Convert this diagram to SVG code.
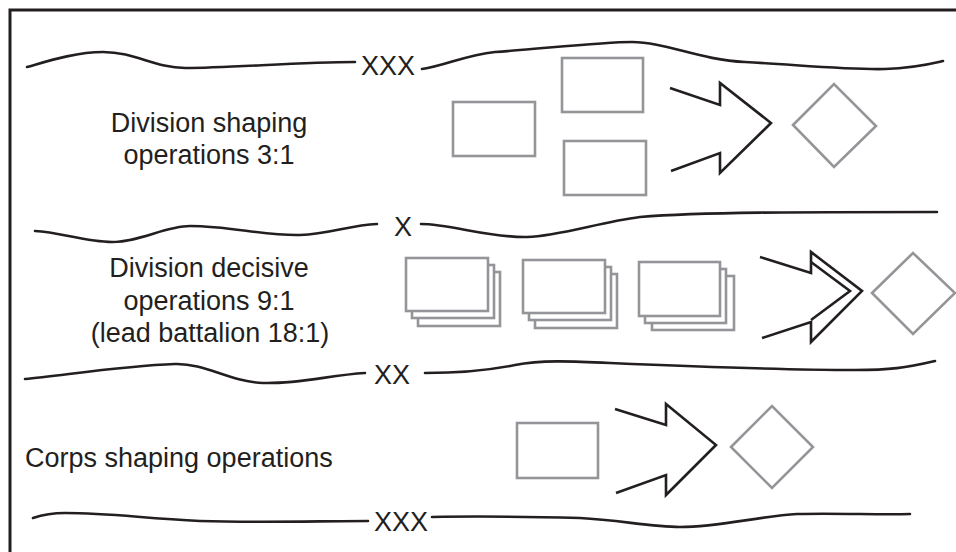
<svg xmlns="http://www.w3.org/2000/svg" width="956" height="552" viewBox="0 0 956 552">
<style>
.frame{fill:none;stroke:#231f20;stroke-width:3}
.wave{fill:none;stroke:#231f20;stroke-width:2.6;stroke-linecap:round}
.unit{fill:#fff;stroke:#939598;stroke-width:2.6}
.obj{fill:none;stroke:#939598;stroke-width:2.6}
.arrow{fill:none;stroke:#231f20;stroke-width:2.6;stroke-linejoin:miter}
.lbl{font-family:"Liberation Sans",Arial,sans-serif;font-size:27px;fill:#231f20}
.mid{text-anchor:middle}
</style>
<rect width="956" height="552" fill="#fff"/>
<path class="frame" d="M10,552 V10 H956"/>

<g id="boundaries">
  <path class="wave" d="M27,67 C45,62 75,52 103,52 C135,52 155,68 185,68 C230,68 300,62 355,62"/>
  <text class="lbl mid" x="388" y="75">XXX</text>
  <path class="wave" d="M422,69 C445,66 465,55 495,52 C540,49 600,42 632,42 C665,42 700,60 745,62 C800,65 850,70 885,69 C915,68 930,64 943,61"/>

  <path class="wave" d="M35,231 C60,232 85,242 112,242 C140,242 165,226 190,226 C230,226 265,236 300,235 C330,234 350,225 377,224"/>
  <text class="lbl mid" x="403" y="236">X</text>
  <path class="wave" d="M421,224 C450,224 490,238 527,237 C560,236 600,222 640,217 C700,212 800,212 937,212"/>

  <path class="wave" d="M25,379 C60,376 120,366 175,364 C205,363 230,382 263,383 C300,384 330,375 365,373"/>
  <text class="lbl mid" x="392" y="384">XX</text>
  <path class="wave" d="M425,373 C460,373 490,370 515,365 C540,360 570,361 610,363 C680,366 800,370 855,370 C890,370 905,368 935,361"/>

  <path class="wave" d="M33,518 C45,514 55,513 65,513 C110,513 140,518 200,521 C260,523 320,521 368,521"/>
  <text class="lbl mid" x="401" y="531">XXX</text>
  <path class="wave" d="M432,517 C480,516 540,517 580,518 C620,520 650,527 680,527 C720,527 760,516 797,514 C840,513 880,515 910,514"/>
</g>

<g id="row1">
  <text class="lbl mid" x="209" y="132">Division shaping</text>
  <text class="lbl mid" x="209" y="164">operations 3:1</text>
  <rect class="unit" x="453" y="102" width="82" height="54"/>
  <rect class="unit" x="562" y="58" width="81" height="54"/>
  <rect class="unit" x="564" y="141" width="82" height="54"/>
  <path class="arrow" d="M670,88 L720,105 L720,83 L771,123 L720,173 L720,153 L671,171"/>
  <path class="obj" d="M793,125 L834,84 L876,126 L834,167 Z"/>
</g>

<g id="row2">
  <text class="lbl mid" x="209" y="277">Division decisive</text>
  <text class="lbl mid" x="209" y="310">operations 9:1</text>
  <text class="lbl mid" x="210" y="342">(lead battalion 18:1)</text>
  <g id="stack1">
    <rect class="unit" x="418" y="272" width="82" height="54"/>
    <rect class="unit" x="412" y="265" width="82" height="53"/>
    <rect class="unit" x="406" y="258" width="82" height="53"/>
  </g>
  <g id="stack2">
    <rect class="unit" x="535" y="274" width="82" height="54"/>
    <rect class="unit" x="529" y="267" width="82" height="53"/>
    <rect class="unit" x="523" y="260" width="82" height="53"/>
  </g>
  <g id="stack3">
    <rect class="unit" x="652" y="276" width="82" height="54"/>
    <rect class="unit" x="645" y="269" width="81" height="54"/>
    <rect class="unit" x="639" y="262" width="81" height="54"/>
  </g>
  <path class="arrow" d="M760,257 L811,273 L811,252 L862,291 L811,342 L811,322 L762,338"/>
  <path class="arrow" d="M811,262 L850,291 L811,320"/>
  <path class="obj" d="M872,293 L913,253 L955,293 L913,334 Z"/>
</g>

<g id="row3">
  <text class="lbl" x="25" y="467">Corps shaping operations</text>
  <rect class="unit" x="517" y="423" width="81" height="55"/>
  <path class="arrow" d="M615,409 L666,425 L666,404 L716,445 L666,495 L666,475 L616,493"/>
  <path class="obj" d="M731,447 L772,406 L813,447 L772,488 Z"/>
</g>
</svg>
